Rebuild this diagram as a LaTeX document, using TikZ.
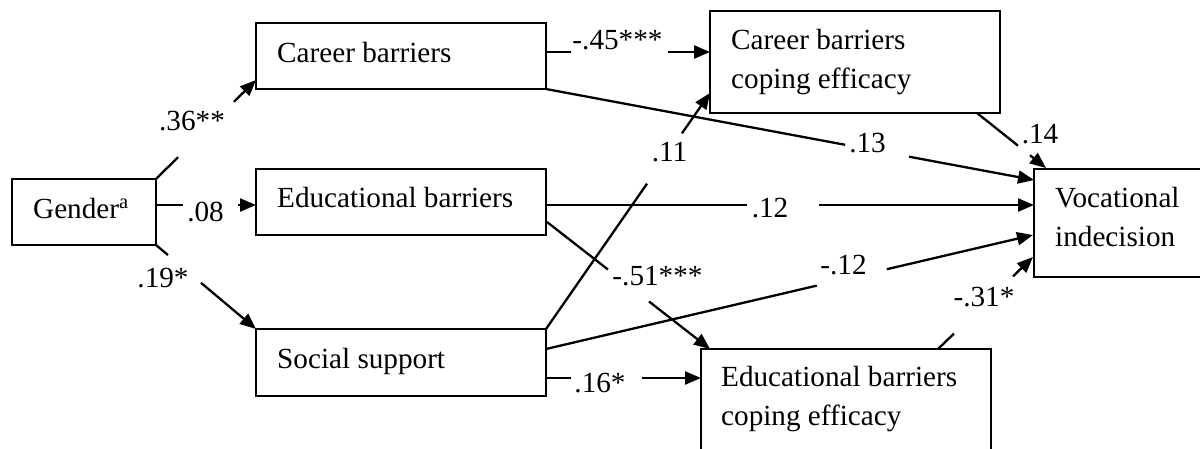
\documentclass[tikz,border=0pt]{standalone}
\usepackage{fontspec}
\setmainfont{Liberation Serif}
\usetikzlibrary{arrows.meta,calc}
\newcommand{\gapconn}[4]{%
  \draw[conn] (#1) -- ($(#1)!#3!(#2)$);
  \draw[arr] ($(#1)!#4!(#2)$) -- (#2);}
\begin{document}
\begin{tikzpicture}[x=1pt,y=-1pt,
  box/.style={draw, line width=2pt, rectangle, inner sep=0pt, outer sep=0pt, anchor=north west},
  txt/.style={inner sep=0pt, anchor=base west, align=left, font=\fontsize{29.2}{39}\selectfont},
  lab/.style={inner sep=0pt, anchor=base, font=\fontsize{29.2}{35}\selectfont},
  conn/.style={line width=2.3pt},
  arr/.style={conn, -{Triangle[length=16pt,width=13pt]}}]
\useasboundingbox (0,0) rectangle (1200,448);
\clip (0,0) rectangle (1200,448);
% boxes
\node[box, minimum width=144pt, minimum height=66pt] (gender) at (12,179) {};
\node[box, minimum width=290pt, minimum height=66pt] (career) at (256,23) {};
\node[box, minimum width=290pt, minimum height=66pt] (edu) at (256,169) {};
\node[box, minimum width=290pt, minimum height=67pt] (social) at (256,329) {};
\node[box, minimum width=290pt, minimum height=102pt] (cbce) at (710,11) {};
\node[box, minimum width=200pt, minimum height=108pt] (voc) at (1034,169) {};
\node[box, minimum width=290pt, minimum height=120pt] (ebce) at (701,349) {};
% texts (base anchor = baseline of the last line)
\node[txt] (gendert) at (33,218) {Gender\textsuperscript{a}};
\node[txt] (careert) at (277,62) {Career barriers};
\node[txt] (edut) at (277,207) {Educational barriers};
\node[txt] (socialt) at (277,368) {Social support};
\node[txt] (cbcet) at (731,88) {Career barriers\\coping efficacy};
\node[txt] (voct) at (1055,246) {Vocational\\indecision};
\node[txt] (ebcet) at (721,425) {Educational barriers\\coping efficacy};
% connector end points
\coordinate (s1) at (gender.north east);
\coordinate (e1) at ($(career.south west)+(0,-9)$);
\coordinate (s2) at ($(gender.east)+(0,-7)$);
\coordinate (e2) at ($(edu.west)+(0,3)$);
\coordinate (s3) at (gender.south east);
\coordinate (e3) at (social.north west);
\coordinate (s4) at ($(career.east)+(0,-4)$);
\coordinate (e4) at ($(cbce.west)+(0,-10)$);
\coordinate (s5) at (career.south east);
\coordinate (e5) at ($(voc.north west)+(0,11)$);
\coordinate (s6) at ($(edu.east)+(0,3)$);
\coordinate (e6) at ($(voc.west)+(0,-18)$);
\coordinate (s7) at ($(edu.south east)+(1,-13)$);
\coordinate (e7) at ($(ebce.north west)+(9,0)$);
\coordinate (s8) at (social.north east);
\coordinate (e8) at ($(cbce.south west)+(0,-20)$);
\coordinate (s9) at ($(social.east)+(0,-13.5)$);
\coordinate (e9) at ($(voc.west)+(-1,12)$);
\coordinate (s10) at ($(social.east)+(0,15.5)$);
\coordinate (e10) at ($(ebce.north west)+(0,29)$);
\coordinate (s11) at ($(cbce.south east)+(-23,0)$);
\coordinate (e11) at ($(voc.north west)+(12,-1)$);
\coordinate (s12) at ($(ebce.north east)+(-53,0)$);
\coordinate (e12) at ($(voc.south west)+(-1,-20)$);
% connectors
\gapconn{s1}{e1}{0.22}{0.78}
\gapconn{s2}{e2}{0.27}{0.82}
\gapconn{s3}{e3}{0.12}{0.45}
\gapconn{s4}{e4}{0.152}{0.744}
\gapconn{s5}{e5}{0.613}{0.744}
\gapconn{s6}{e6}{0.412}{0.559}
\gapconn{s7}{e7}{0.374}{0.626}
\gapconn{s8}{e8}{0.616}{0.829}
\gapconn{s9}{e9}{0.556}{0.700}
\gapconn{s10}{e10}{0.161}{0.619}
\gapconn{s11}{e11}{0.594}{0.768}
\gapconn{s12}{e12}{0.168}{0.789}
% labels
\node[lab] (l1) at (192,130) {.36**};
\node[lab] (l2) at (205.5,221) {.08};
\node[lab] (l3) at (163,287) {.19*};
\node[lab] (l4) at (617.5,49) {-.45***};
\node[lab] (l5) at (867.5,152) {.13};
\node[lab] (l6) at (770,217) {.12};
\node[lab] (l7) at (657.5,285) {-.51***};
\node[lab] (l8) at (669.5,161) {.11};
\node[lab] (l9) at (843.5,274) {-.12};
\node[lab] (l10) at (600,392) {.16*};
\node[lab] (l11) at (1040,143) {.14};
\node[lab] (l12) at (984,306) {-.31*};
\end{tikzpicture}
\end{document}
